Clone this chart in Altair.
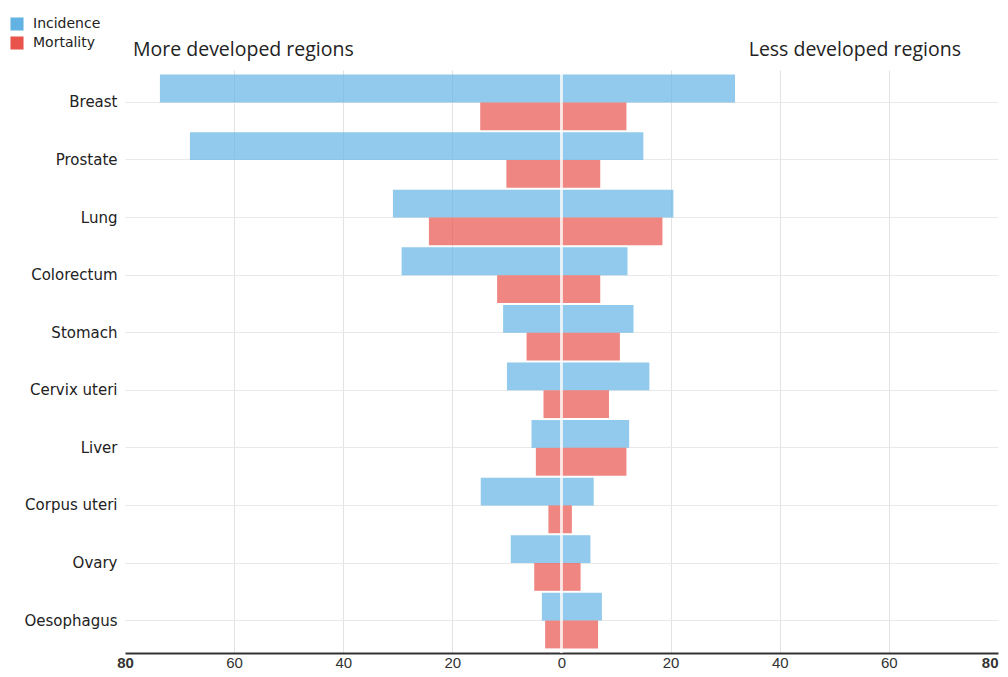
import altair as alt
import pandas as pd

categories = ["Breast", "Prostate", "Lung", "Colorectum", "Stomach",
              "Cervix uteri", "Liver", "Corpus uteri", "Ovary", "Oesophagus"]
measures = ["Incidence", "Mortality"]

# More developed regions (shown on the left)
more_incidence = [73.6, 68.1, 30.9, 29.3, 10.7, 10.0, 5.5, 14.8, 9.3, 3.6]
more_mortality = [14.9, 10.1, 24.3, 11.8, 6.4, 3.3, 4.7, 2.4, 5.0, 3.0]
# Less developed regions (shown on the right)
less_incidence = [31.8, 15.0, 20.5, 12.1, 13.2, 16.1, 12.4, 5.9, 5.3, 7.4]
less_mortality = [11.9, 7.1, 18.5, 7.1, 10.7, 8.7, 11.9, 1.9, 3.5, 6.7]

tick_values = [-80, -60, -40, -20, 0, 20, 40, 60, 80]

rows = []
for i, c in enumerate(categories):
    rows.append({"cat": c, "measure": "Incidence", "region": "More", "value": -more_incidence[i]})
    rows.append({"cat": c, "measure": "Mortality", "region": "More", "value": -more_mortality[i]})
    rows.append({"cat": c, "measure": "Incidence", "region": "Less", "value": less_incidence[i]})
    rows.append({"cat": c, "measure": "Mortality", "region": "Less", "value": less_mortality[i]})
df = pd.DataFrame(rows)

xscale = alt.Scale(domain=[-80, 80], nice=False, zero=False)

bars = alt.Chart(df).mark_bar(opacity=0.7).encode(
    x=alt.X("value:Q", scale=xscale, title=None,
            axis=alt.Axis(values=tick_values, labelExpr="abs(datum.value)",
                          ticks=False, domain=True, domainColor="#333333", domainWidth=2,
                          grid=True,
                          gridColor=alt.ExprRef("abs(datum.value) == 80 ? 'transparent' : '#e3e3e3'"),
                          labelFontWeight=alt.ExprRef("abs(datum.value) == 80 ? 'bold' : 'normal'"),
                          labelAlign=alt.ExprRef("datum.value == 80 ? 'right' : 'center'"),
                          labelFont="Liberation Sans", labelFontSize=15, labelColor="#333333",
                          labelPadding=2, labelFlush=False)),
    y=alt.Y("cat:N", sort=categories, title=None,
            scale=alt.Scale(paddingInner=0.034, paddingOuter=0.08),
            axis=alt.Axis(ticks=False, domain=False, grid=True, gridColor="#e9e9e9",
                          bandPosition=0.5,
                          labelFont="DejaVu Sans", labelFontSize=15, labelColor="#222222",
                          labelPadding=8)),
    yOffset=alt.YOffset("measure:N", sort=measures,
                        scale=alt.Scale(paddingInner=0, paddingOuter=0)),
    color=alt.Color("measure:N", sort=measures,
                    scale=alt.Scale(domain=measures, range=["#62b3e4", "#e8534b"]),
                    legend=alt.Legend(title=None, orient="none", legendX=-115, legendY=-53,
                                      symbolType="square", symbolSize=170, symbolOpacity=1,
                                      symbolStrokeWidth=0,
                                      labelFont="DejaVu Sans", labelFontSize=14,
                                      labelColor="#222222", labelOffset=9, rowPadding=5,
                                      padding=0)),
)

zero_rule = alt.Chart(pd.DataFrame({"z": [0]})).mark_rule(color="white", strokeWidth=3, opacity=0.75).encode(
    x=alt.X("z:Q", scale=xscale)
)

left_title = alt.Chart(pd.DataFrame({"t": ["More developed regions"], "p": [-80]})).mark_text(
    align="left", baseline="alphabetic", dx=8, font="Open Sans", fontSize=19.5, color="#222222"
).encode(x=alt.X("p:Q", scale=xscale), y=alt.value(-14), text="t:N")

right_title = alt.Chart(pd.DataFrame({"t": ["Less developed regions"], "p": [80]})).mark_text(
    align="right", baseline="alphabetic", dx=-37, font="Open Sans", fontSize=19.5, color="#222222"
).encode(x=alt.X("p:Q", scale=xscale), y=alt.value(-14), text="t:N")

chart = alt.layer(bars, zero_rule, left_title, right_title).properties(
    width=873, height=583,
    autosize=alt.AutoSizeParams(type="none"),
    padding={"left": 117, "top": 62, "right": 2, "bottom": 16},
).configure_view(stroke=None)

chart.save("out.html", embed_options={"renderer": "svg", "actions": False})
